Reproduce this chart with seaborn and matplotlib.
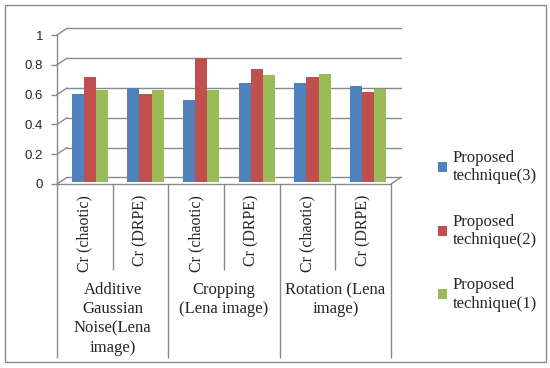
import numpy as np
import pandas as pd
import matplotlib
matplotlib.use("Agg")
import matplotlib.pyplot as plt
import matplotlib.transforms as mtransforms
from matplotlib.lines import Line2D
import seaborn as sns

# data
groups = ["Additive\nGaussian\nNoise(Lena\nimage)", "Cropping\n(Lena image)", "Rotation (Lena\nimage)"]
subs = ["Cr (chaotic)", "Cr (DRPE)"]
series = ["Proposed\ntechnique(3)", "Proposed\ntechnique(2)", "Proposed\ntechnique(1)"]
tech3 = [0.59, 0.633, 0.553, 0.665, 0.667, 0.645]
tech2 = [0.705, 0.593, 0.83, 0.76, 0.705, 0.605]
tech1 = [0.615, 0.62, 0.615, 0.72, 0.727, 0.625]
yticks = [0, 0.2, 0.4, 0.6, 0.8, 1]
colors = ["#4F81BD", "#C0504D", "#9BBB59"]

cases = [f"{g}|{s}" for g in groups for s in subs]
df = pd.DataFrame({
    "case": cases * 3,
    "value": tech3 + tech2 + tech1,
    "series": [series[0]] * 6 + [series[1]] * 6 + [series[2]] * 6,
})

sns.set_style("white")
plt.rcParams["font.family"] = ["Liberation Serif", "DejaVu Serif"]

W, H = 550, 368
fig = plt.figure(figsize=(5.5, 3.68), dpi=100)
# front face of the plot area: x 57..391 px, y 184 (0) .. 35 (1) px
ax = fig.add_axes([57 / W, 1 - 184 / H, 334 / W, 149 / H])

sns.barplot(data=df, x="case", y="value", hue="series", order=cases,
            hue_order=series, palette=colors, width=0.65, gap=0,
            saturation=1, ax=ax, edgecolor="none")

# bars sit a bit behind the front face (3D look)
shift = mtransforms.ScaledTranslation(0.05, 0.02, fig.dpi_scale_trans)
for p in ax.patches:
    p.set_transform(ax.transData + shift)

ax.set_xlim(-0.5, 5.5)
ax.set_ylim(0, 1)
ax.set_xlabel("")
ax.set_ylabel("")

grey = "#8A8A8A"
for s in ["top", "right"]:
    ax.spines[s].set_visible(False)
for s in ["left", "bottom"]:
    ax.spines[s].set_color(grey)
    ax.spines[s].set_linewidth(1)

# back-wall gridlines
back = ax.get_yaxis_transform() + mtransforms.ScaledTranslation(0.10, 0.067, fig.dpi_scale_trans)
for v in yticks:
    ax.plot([0, 1], [v, v], color=grey, lw=1, transform=back, clip_on=False, zorder=0)
    y0 = 1 - 184 / H + v * 149 / H
    fig.add_artist(Line2D([57 / W, 67 / W], [y0, y0 + 6.7 / H], color=grey, lw=1))
# floor right edge
y0 = 1 - 184 / H
fig.add_artist(Line2D([391 / W, 401 / W], [y0, y0 + 6.7 / H], color=grey, lw=1))

ax.set_yticks(yticks)
ax.set_yticklabels(["0", "0.2", "0.4", "0.6", "0.8", "1"],
                   fontfamily="Liberation Sans", fontsize=9.5)
ax.tick_params(axis="y", left=True, length=4, width=1, color=grey, pad=6)

ax.set_xticks(range(6))
ax.set_xticklabels(subs * 3, rotation=90, va="top", fontsize=11.5)
ax.tick_params(axis="x", bottom=False, length=0, pad=8)

# category table lines below the axis
xt = ax.get_xaxis_transform()
ax.vlines([0.5, 2.5, 4.5], -86 / 149, 0, color=grey, lw=1, transform=xt, clip_on=False)
ax.vlines([-0.5, 1.5, 3.5, 5.5], -174 / 149, 0, color=grey, lw=1, transform=xt, clip_on=False)
for i, g in enumerate(groups):
    ax.text(2 * i + 0.5, -98 / 149, g, transform=xt, ha="center", va="top",
            fontsize=12, linespacing=1.28)

# legend
handles, _ = ax.get_legend_handles_labels()
ax.legend_.remove()
fig.legend(handles, series, loc="upper left", bbox_to_anchor=(423 / W, 1 - 135 / H),
           frameon=False, fontsize=12, handlelength=0.55, handleheight=0.55,
           handletextpad=0.35, labelspacing=1.75)

# outer border
fig.add_artist(plt.Rectangle((4.5 / W, 1 - 361.5 / H), 541 / W, 357 / H,
                             fill=False, edgecolor=grey, lw=1))

fig.savefig("out.png", dpi=100)
